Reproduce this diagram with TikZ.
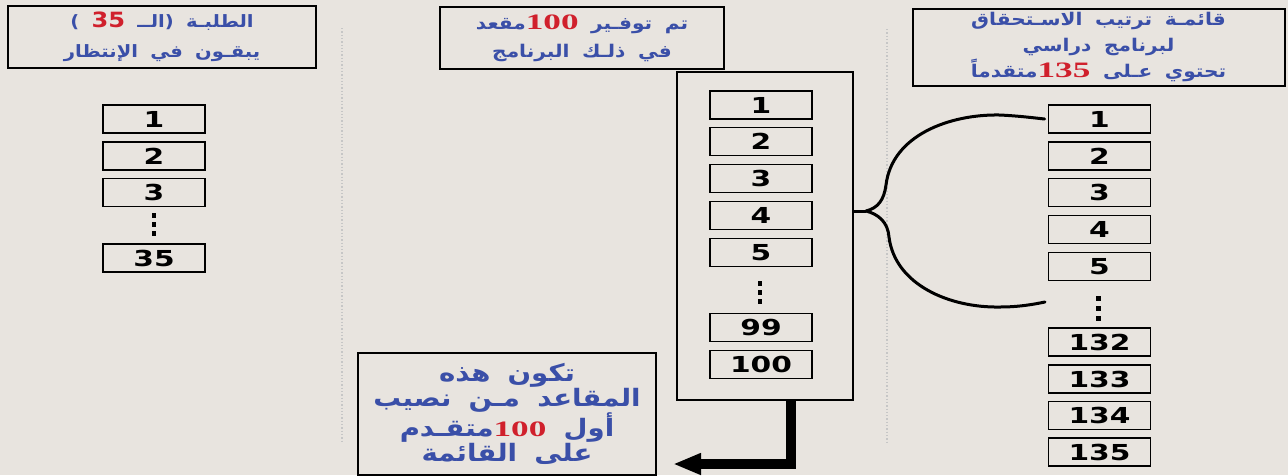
\documentclass[tikz,border=0pt]{standalone}
\usepackage{fontspec}
\usetikzlibrary{arrows.meta}
\TeXXeTstate=1
\newfontfamily\arab[Script=Arabic,FakeStretch=1.15,WordSpace=1.8]{DejaVu Sans}
\newfontfamily\numfont[FakeStretch=1.35]{DejaVu Sans}
\newfontfamily\rednum[FakeStretch=1.6]{Liberation Serif}
\definecolor{bg}{HTML}{E8E4DF}
\definecolor{tblue}{HTML}{3A4FA8}
\definecolor{tred}{HTML}{D0202C}
\newcommand{\AR}[1]{\beginR #1\endR}
\newcommand{\RN}[1]{\mbox{\color{tred}\rednum\bfseries\fontsize{22}{22}\selectfont #1}}
\newcommand{\RS}[1]{\mbox{\color{tred}\fontsize{21}{21}\selectfont #1}}
\begin{document}
\begin{tikzpicture}[x=1pt,y=-1pt,
  numbox/.style={draw, line width=1.8pt, minimum width=102pt, minimum height=28pt, inner sep=0pt, font=\numfont\bfseries\fontsize{22}{22}\selectfont},
  titlebox/.style={draw, line width=2pt, inner sep=0pt, align=center, text=tblue},
  sepline/.style={draw=gray!45, dotted, line width=1.3pt},
  dotsq/.style={fill=black},
  ]
\fill[bg] (0,0) rectangle (1288,475);
\useasboundingbox (0,0) rectangle (1288,475);
% separators
\draw[sepline] (342,28) -- (342,442);
\draw[sepline] (887,29) -- (887,442);
% title boxes (coloured numbers are set outside the right-to-left runs, in visual order)
\node[titlebox, minimum width=308pt, minimum height=62pt, font=\arab\bfseries\fontsize{17}{30}\selectfont] (tl) at (162,37)
  {) \RS{35} \AR{الطلبـة (الــ}\\ \AR{يبقـون في الإنتظار}};
\node[titlebox, minimum width=284pt, minimum height=62pt, font=\arab\bfseries\fontsize{17.5}{28}\selectfont] (tm) at (582,38)
  {\AR{مقعد}\RN{100} \AR{تم توفـير}\\ \AR{في ذلـك البرنامج}};
\node[titlebox, minimum width=372pt, minimum height=77pt, font=\arab\bfseries\fontsize{17.5}{26}\selectfont] (tr) at (1098.5,47)
  {\AR{قائمـة ترتيب الاسـتحقاق}\\ \AR{لبرنامج دراسي}\\ \AR{متقدماً}\RN{135} \AR{تحتوي عـلى}};
\node[titlebox, minimum width=298pt, minimum height=122pt, font=\arab\bfseries\fontsize{24}{25}\selectfont] (bl) at (507,414)
  {\AR{تكون هذه}\\ \AR{المقاعد مـن نصيب}\\ \AR{متقـدم}\RN{100} \AR{أول}\\ \AR{على القائمة}};
% left list
\node[numbox] (l1) at (154,119) {1};
\node[numbox] (l2) at (154,156) {2};
\node[numbox] (l3) at (154,192.5) {3};
\node[numbox] (l35) at (154,258) {35};
\foreach \yy in {215,224,233} \fill[dotsq] (151.5,\yy-2) rectangle ++(4.5,4.5);
% middle container
\node[draw, line width=2pt, minimum width=176pt, minimum height=328pt, inner sep=0pt] (cont) at (765,236) {};
\node[numbox] (m1) at (761,105) {1};
\node[numbox] (m2) at (761,141.5) {2};
\node[numbox] (m3) at (761,178.5) {3};
\node[numbox] (m4) at (761,215.5) {4};
\node[numbox] (m5) at (761,252.5) {5};
\node[numbox] (m99) at (761,327.5) {99};
\node[numbox] (m100) at (761,364.5) {100};
\foreach \yy in {283,292,301} \fill[dotsq] (757.5,\yy-2) rectangle ++(4.5,4.5);
% right list
\node[numbox] (r1) at (1099.5,119) {1};
\node[numbox] (r2) at (1099.5,156) {2};
\node[numbox] (r3) at (1099.5,192.5) {3};
\node[numbox] (r4) at (1099.5,229.5) {4};
\node[numbox] (r5) at (1099.5,266.5) {5};
\node[numbox] (r132) at (1099.5,342) {132};
\node[numbox] (r133) at (1099.5,379) {133};
\node[numbox] (r134) at (1099.5,415.5) {134};
\node[numbox] (r135) at (1099.5,452) {135};
\foreach \yy in {298,308,318} \fill[dotsq] (1096,\yy-2) rectangle ++(4.5,4.5);
% brace
\coordinate (bt) at (866,211);
\coordinate (bend) at (1045,302);
\draw[line width=3pt] (cont.east |- bt) -- (bt);
\draw[line width=3pt, line cap=round] (bt) .. controls (878,208) and (884,200) .. (886,185)
  .. controls (892,135) and (950,114) .. (1000,115)
  .. controls (1020,116) and (1035,118) .. ([xshift=-3pt]r1.west);
\draw[line width=3pt, line cap=round] (bt) .. controls (878,214) and (888,222) .. (889,237)
  .. controls (895,285) and (950,308) .. (1000,307)
  .. controls (1020,307) and (1035,304) .. (bend);
% arrow
\coordinate (tip) at (673,464);
\draw[line width=10pt, -{Triangle[length=28pt,width=20pt]}] ([xshift=26pt]cont.south) |- (tip);
\end{tikzpicture}
\end{document}
